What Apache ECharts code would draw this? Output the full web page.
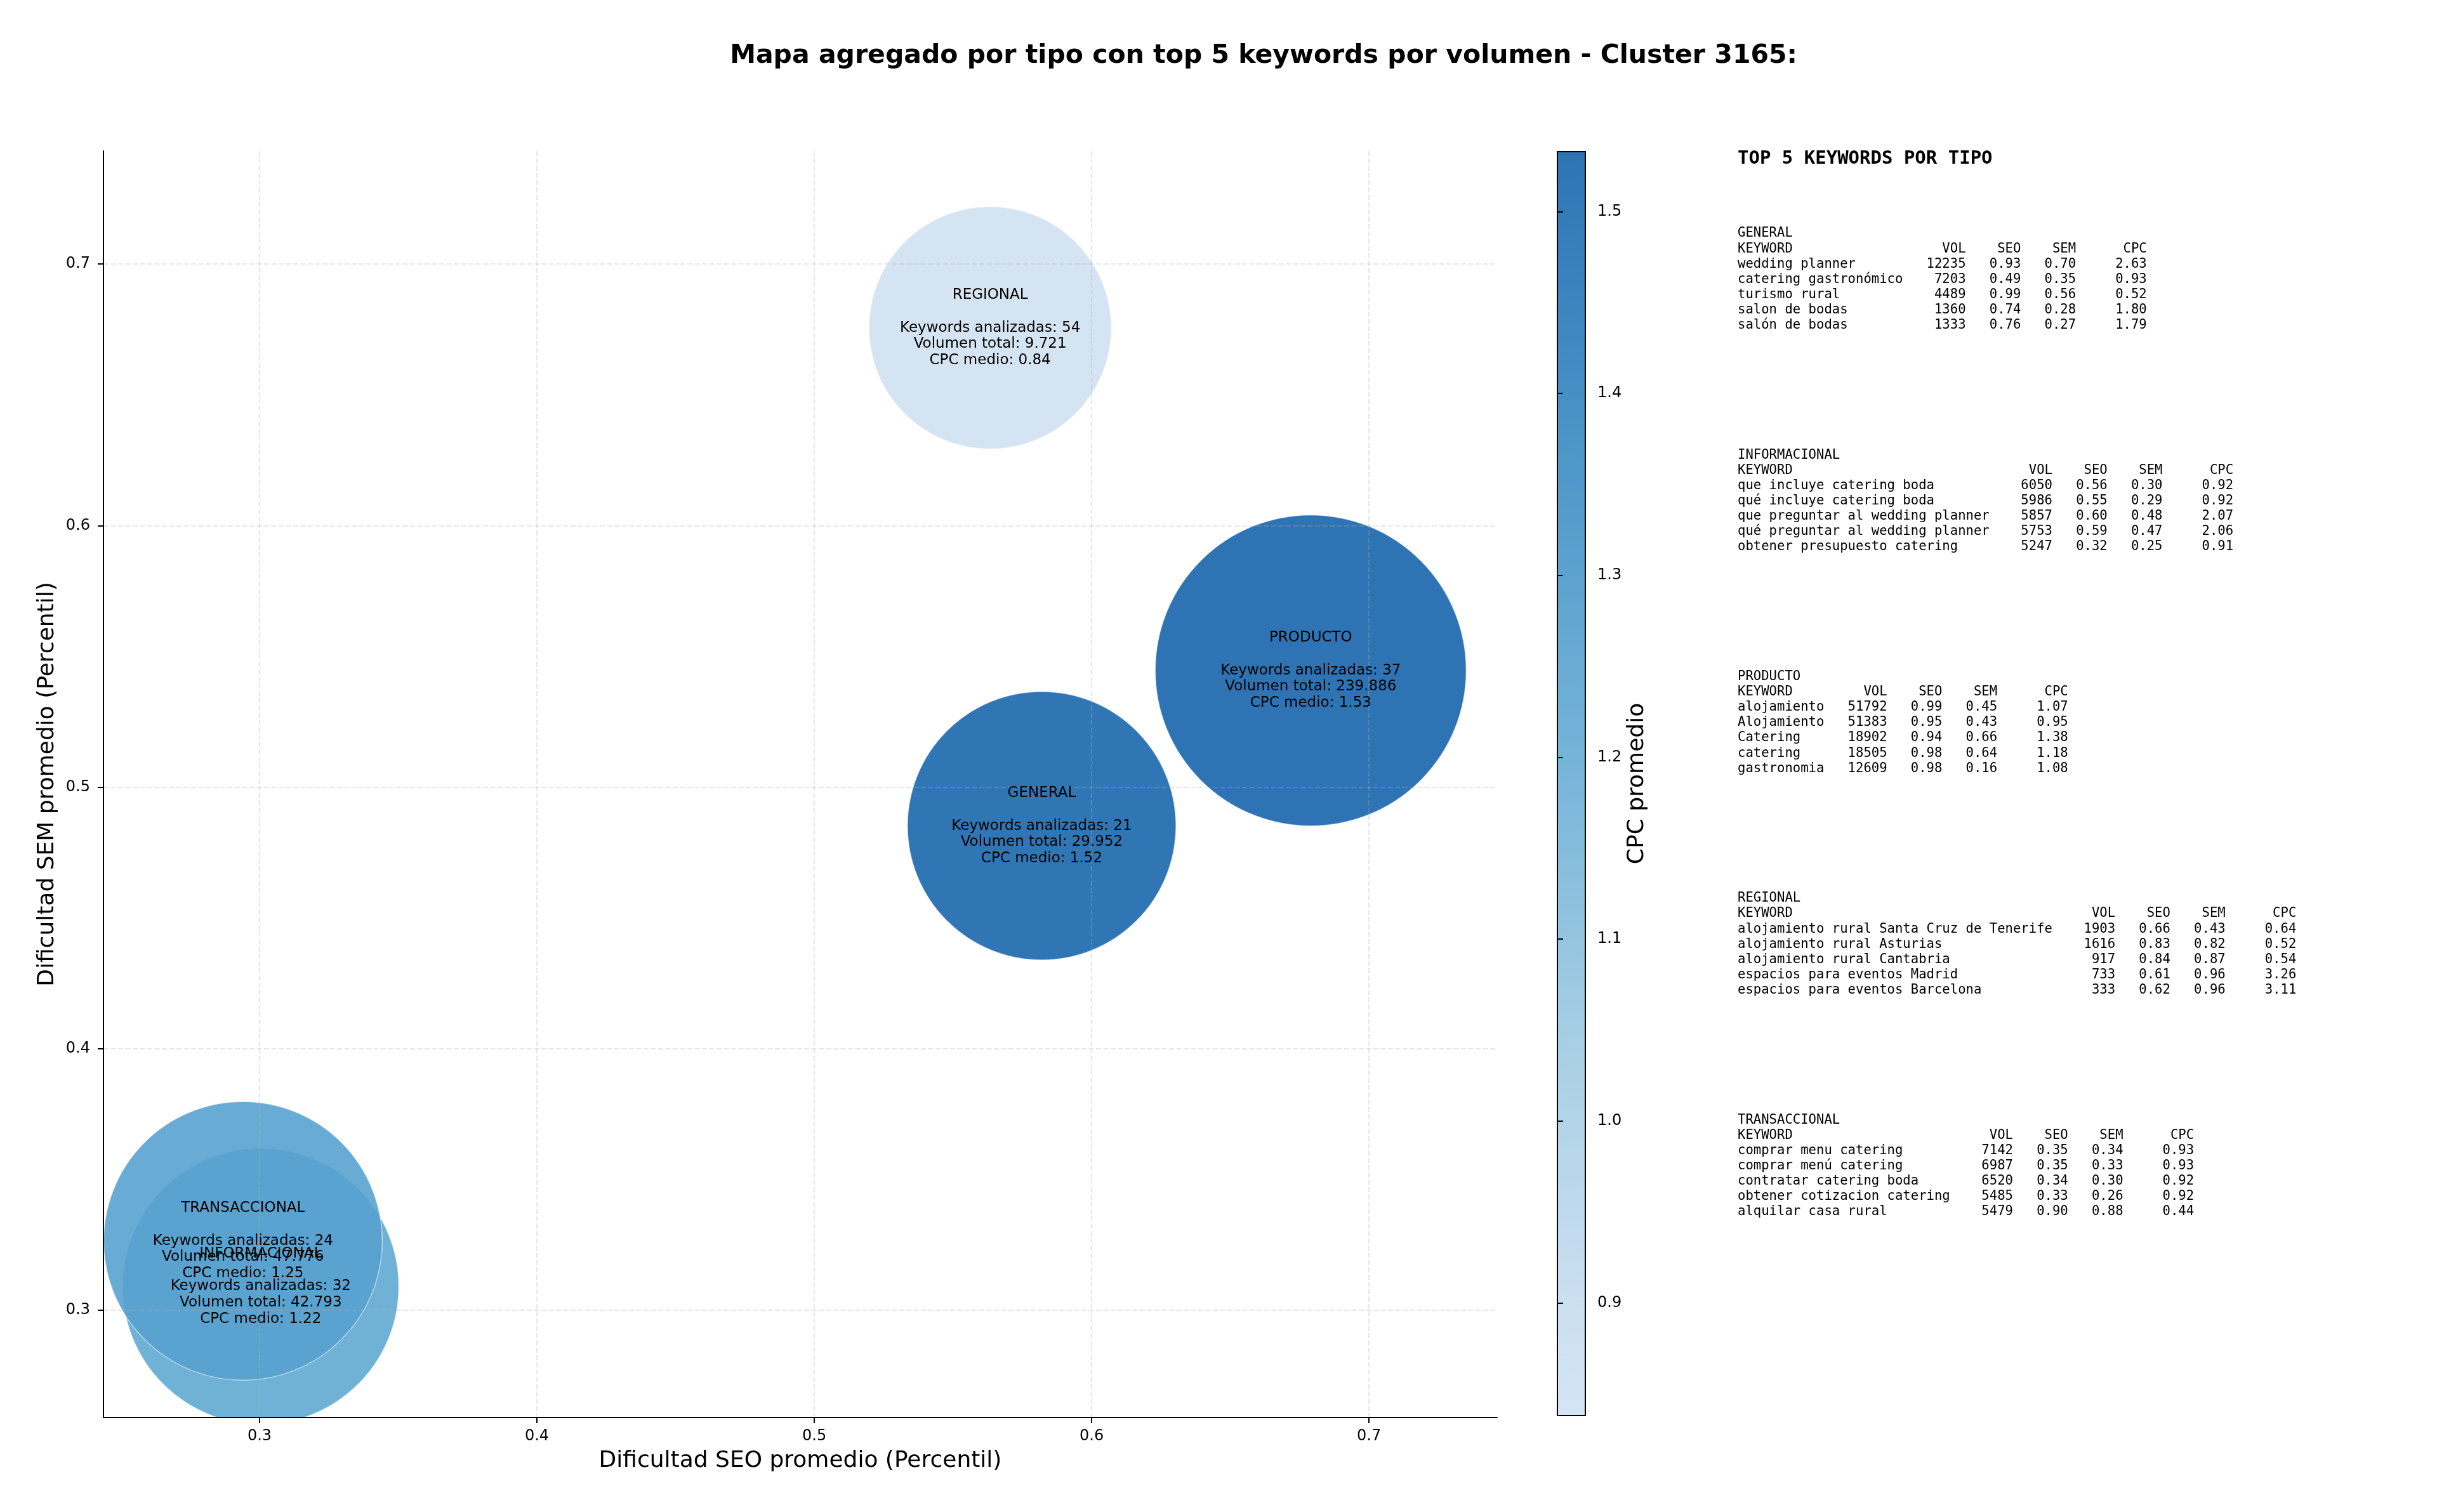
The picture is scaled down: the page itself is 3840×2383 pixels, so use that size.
<!DOCTYPE html>
<html>
<head>
<meta charset="utf-8">
<script src="https://cdn.jsdelivr.net/npm/echarts@6/dist/echarts.min.js"></script>
<style>
  html,body{margin:0;padding:0;background:#fff;}
  #chart_wrap{width:3840px;height:2383px;}
</style>
</head>
<body>
<div id="chart_wrap"></div>
<script>
// datos agregados por tipo
var tipos=['GENERAL','INFORMACIONAL','PRODUCTO','REGIONAL','TRANSACCIONAL'];
var seoMedio=[0.582,0.3004,0.679,0.5634,0.294];
var semMedio=[0.4852,0.3091,0.5446,0.6756,0.3265];
var cpcMedio=[1.52,1.22,1.533,0.838,1.25];
var numKeywords=[21,32,37,54,24];
var volTotal=[29952,42793,239886,9721,47776];

var ticksX=[0.3,0.4,0.5,0.6,0.7];
var ticksY=[0.3,0.4,0.5,0.6,0.7];
var ticksCpc=[0.9,1.0,1.1,1.2,1.3,1.4,1.5];

// top 5 keywords por tipo: [keyword, vol, seo, sem, cpc]
var topGeneral=[
  ['wedding planner',12235,0.93,0.70,2.63],
  ['catering gastronómico',7203,0.49,0.35,0.93],
  ['turismo rural',4489,0.99,0.56,0.52],
  ['salon de bodas',1360,0.74,0.28,1.80],
  ['salón de bodas',1333,0.76,0.27,1.79]
];
var topInformacional=[
  ['que incluye catering boda',6050,0.56,0.30,0.92],
  ['qué incluye catering boda',5986,0.55,0.29,0.92],
  ['que preguntar al wedding planner',5857,0.60,0.48,2.07],
  ['qué preguntar al wedding planner',5753,0.59,0.47,2.06],
  ['obtener presupuesto catering',5247,0.32,0.25,0.91]
];
var topProducto=[
  ['alojamiento',51792,0.99,0.45,1.07],
  ['Alojamiento',51383,0.95,0.43,0.95],
  ['Catering',18902,0.94,0.66,1.38],
  ['catering',18505,0.98,0.64,1.18],
  ['gastronomia',12609,0.98,0.16,1.08]
];
var topRegional=[
  ['alojamiento rural Santa Cruz de Tenerife',1903,0.66,0.43,0.64],
  ['alojamiento rural Asturias',1616,0.83,0.82,0.52],
  ['alojamiento rural Cantabria',917,0.84,0.87,0.54],
  ['espacios para eventos Madrid',733,0.61,0.96,3.26],
  ['espacios para eventos Barcelona',333,0.62,0.96,3.11]
];
var topTransaccional=[
  ['comprar menu catering',7142,0.35,0.34,0.93],
  ['comprar menú catering',6987,0.35,0.33,0.93],
  ['contratar catering boda',6520,0.34,0.30,0.92],
  ['obtener cotizacion catering',5485,0.33,0.26,0.92],
  ['alquilar casa rural',5479,0.90,0.88,0.44]
];
var tablasTop=[topGeneral,topInformacional,topProducto,topRegional,topTransaccional];

// Blues recortado (0.2 - 0.8)
var coloresCmap=['#d0e1f2','#c3daee','#b0d2e7','#9cc9e1','#83bbdb','#6baed6',
  '#57a1ce','#4493c7','#3483bf','#2474b6','#1764ab'];
var ALFA=0.9;

var MONO='"DejaVu Sans Mono", monospace';
var SANS='"DejaVu Sans", sans-serif';

var fmtMiles=function(n){
  return String(n).replace(/\B(?=(\d{3})+(?!\d))/g,'.');
};

var cpcMin=Math.min.apply(null,cpcMedio);
var cpcMax=Math.max.apply(null,cpcMedio);

// radio de la burbuja (px) segun log del volumen
var vMin=Math.log10(Math.min.apply(null,volTotal));
var vMax=Math.log10(Math.max.apply(null,volTotal));
var radioBurbuja=function(vol){
  var t=(Math.log10(vol)-vMin)/(vMax-vMin);
  return Math.sqrt(191*191+t*(245*245-191*191));
};

var lineaTabla=function(c,w){
  return c[0].padEnd(w)+' '+c[1].padStart(7)+' '+c[2].padStart(6)+' '+c[3].padStart(6)+' '+c[4].padStart(8);
};

var bloquesTexto=tablasTop.map(function(tabla,i){
  var w=Math.max.apply(null,tabla.map(function(r){return r[0].length;}).concat([7]));
  var lineas=[tipos[i],lineaTabla(['KEYWORD','VOL','SEO','SEM','CPC'],w)];
  tabla.forEach(function(r){
    lineas.push(lineaTabla([r[0],String(r[1]),r[2].toFixed(2),r[3].toFixed(2),r[4].toFixed(2)],w));
  });
  return lineas.join('\n');
});

var datos=tipos.map(function(t,i){
  return [seoMedio[i],semMedio[i],cpcMedio[i],volTotal[i],numKeywords[i],t];
});

var objEcharts=echarts.init(document.getElementById('chart_wrap'));

var graficos=[{
  type:'text',left:2738,top:236,
  style:{text:'TOP 5 KEYWORDS POR TIPO',font:'bold 29px '+MONO,fill:'#000'}
}];
bloquesTexto.forEach(function(txt,i){
  graficos.push({
    type:'text',left:2738,top:356+i*349.3,
    style:{text:txt,font:'20.6px '+MONO,lineHeight:24.1,fill:'#000'}
  });
});

var splitGrid={show:true,lineStyle:{color:'rgba(176,176,176,0.3)',type:[8,3.5],width:2}};

var option={
  animation:false,
  backgroundColor:'#fff',
  title:{
    text:'Mapa agregado por tipo con top 5 keywords por volumen - Cluster 3165:',
    left:1986,top:83,textAlign:'center',textVerticalAlign:'middle',
    textStyle:{fontFamily:SANS,fontWeight:'bold',fontSize:41,color:'#000'}
  },
  grid:[
    {left:163,top:238,width:2196,height:1996},
    {left:2454,top:239,width:44,height:1992}
  ],
  xAxis:[{
    type:'value',gridIndex:0,min:0.2437,max:0.7462,z:3,
    name:'Dificultad SEO promedio (Percentil)',nameLocation:'middle',nameGap:51,
    nameTextStyle:{fontFamily:SANS,fontSize:36,color:'#000'},
    axisLine:{show:true,onZero:false,lineStyle:{color:'#000',width:2}},
    axisTick:{show:true,length:9,lineStyle:{color:'#000',width:2},customValues:ticksX},
    axisLabel:{fontFamily:SANS,fontSize:24,color:'#000',margin:18,customValues:ticksX,
      formatter:function(v){return String(+v.toFixed(2));}},
    splitLine:splitGrid
  },{
    type:'value',gridIndex:1,min:0,max:1,show:false
  }],
  yAxis:[{
    type:'value',gridIndex:0,min:0.259,max:0.7432,z:3,
    name:'Dificultad SEM promedio (Percentil)',nameLocation:'middle',nameGap:70,
    nameTextStyle:{fontFamily:SANS,fontSize:36,color:'#000'},
    axisLine:{show:true,onZero:false,lineStyle:{color:'#000',width:2}},
    axisTick:{show:true,length:9,lineStyle:{color:'#000',width:2},customValues:ticksY},
    axisLabel:{fontFamily:SANS,fontSize:24,color:'#000',margin:21,customValues:ticksY,
      formatter:function(v){return String(+v.toFixed(2));}},
    splitLine:splitGrid
  },{
    type:'value',gridIndex:1,min:cpcMin,max:cpcMax,position:'right',z:3,
    name:'CPC promedio',nameLocation:'middle',nameGap:64,
    nameTextStyle:{fontFamily:SANS,fontSize:36,color:'#000'},
    axisLine:{show:false},
    axisTick:{show:true,length:9,lineStyle:{color:'#000',width:2},customValues:ticksCpc},
    axisLabel:{fontFamily:SANS,fontSize:24,color:'#000',margin:19,customValues:ticksCpc,
      formatter:function(v){return v.toFixed(1);}},
    splitLine:{show:false}
  }],
  visualMap:{
    show:false,type:'continuous',seriesIndex:0,dimension:2,
    min:cpcMin,max:cpcMax,
    inRange:{color:coloresCmap}
  },
  series:[{
    // burbujas
    type:'custom',xAxisIndex:0,yAxisIndex:0,clip:true,z:2,
    data:datos,
    renderItem:function(params,api){
      var p=api.coord([api.value(0),api.value(1)]);
      return {
        type:'circle',
        shape:{cx:p[0],cy:p[1],r:radioBurbuja(api.value(3))},
        style:{fill:api.visual('color'),opacity:ALFA,stroke:'rgba(255,255,255,0.6)',lineWidth:1.5}
      };
    }
  },{
    // textos de cada burbuja
    type:'custom',xAxisIndex:0,yAxisIndex:0,clip:false,z:5,
    data:datos,
    renderItem:function(params,api){
      var p=api.coord([api.value(0),api.value(1)]);
      var d=datos[params.dataIndex];
      return {
        type:'text',x:p[0],y:p[1],
        style:{
          text:d[5]+'\n\nKeywords analizadas: '+d[4]+'\nVolumen total: '+fmtMiles(d[3])+'\nCPC medio: '+d[2].toFixed(2),
          font:'23px '+SANS,lineHeight:25.7,fill:'#000',align:'center',verticalAlign:'middle'
        }
      };
    }
  },{
    // barra de color
    type:'custom',xAxisIndex:1,yAxisIndex:1,clip:false,z:2,
    data:[[0,1,cpcMin,cpcMax]],
    renderItem:function(params,api){
      var a=api.coord([api.value(0),api.value(3)]);
      var b=api.coord([api.value(1),api.value(2)]);
      var rect={x:a[0],y:a[1],width:b[0]-a[0],height:b[1]-a[1]};
      var stops=coloresCmap.map(function(c,i){return {offset:i/(coloresCmap.length-1),color:c};});
      return {
        type:'group',
        children:[{
          type:'rect',shape:rect,
          style:{fill:{type:'linear',x:0,y:1,x2:0,y2:0,colorStops:stops},opacity:ALFA}
        },{
          type:'rect',shape:rect,
          style:{fill:null,stroke:'#000',lineWidth:2}
        }]
      };
    }
  }],
  graphic:graficos
};

objEcharts.setOption(option);
</script>
</body>
</html>
